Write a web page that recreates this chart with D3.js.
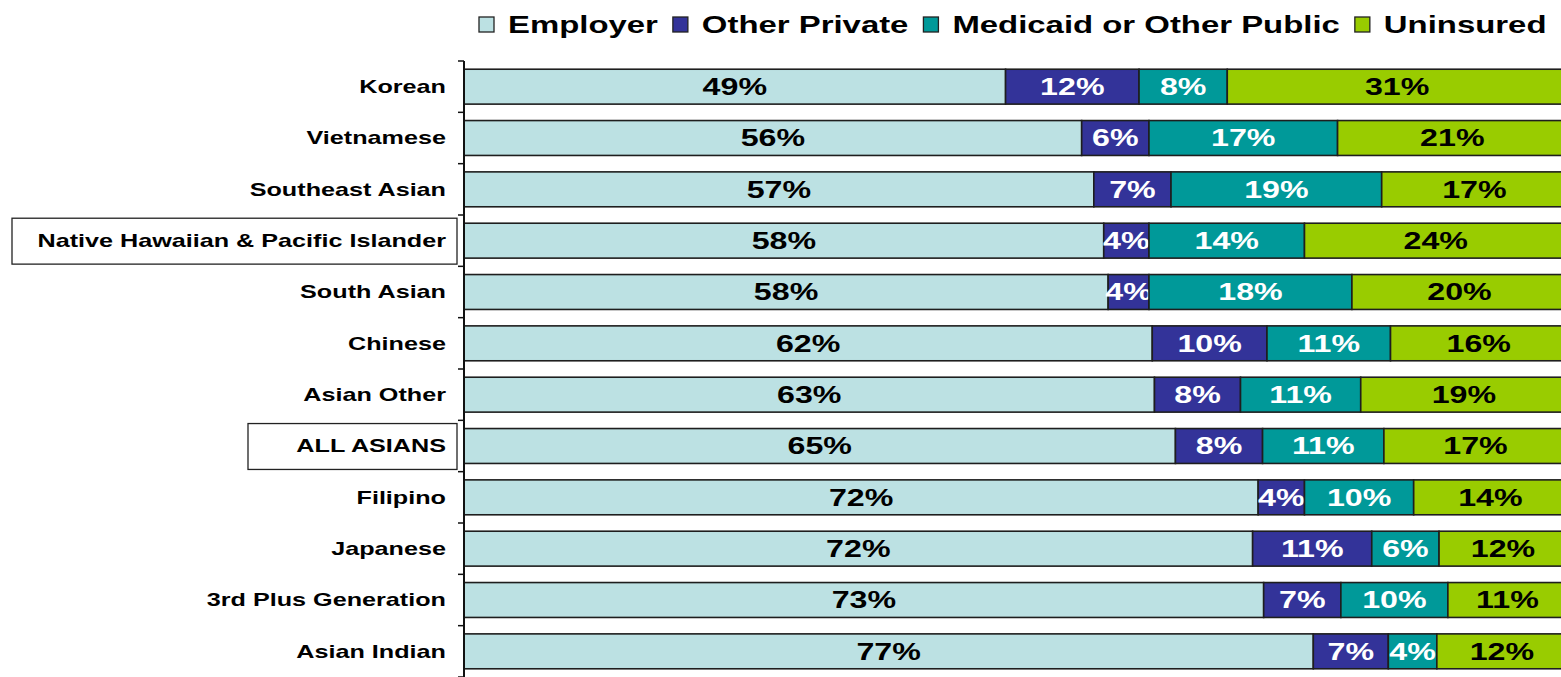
<!DOCTYPE html>
<html>
<head>
<meta charset="utf-8">
<script src="https://cdn.jsdelivr.net/npm/d3@7"></script>
<style>
  html, body { margin: 0; padding: 0; background: #fff; overflow: hidden; }
  svg { display: block; font-family: 'Liberation Sans', Arial, sans-serif; font-weight: bold; }
</style>
</head>
<body>
<svg id="chart"></svg>
<script>
// categories, top to bottom
const groups = [
  'Korean', 'Vietnamese', 'Southeast Asian', 'Native Hawaiian & Pacific Islander',
  'South Asian', 'Chinese', 'Asian Other', 'ALL ASIANS', 'Filipino', 'Japanese',
  '3rd Plus Generation', 'Asian Indian',
];
const coverageKeys = ['Employer', 'Other Private', 'Medicaid or Other Public', 'Uninsured'];

// shares (%) per coverage type, same order as groups
const employer = [49.1, 56.0, 57.1, 58.0, 58.4, 62.4, 62.6, 64.5, 72.0, 71.5, 72.5, 77.0];
const otherPrivate = [12.1, 6.1, 7.0, 4.1, 3.7, 10.4, 7.8, 7.9, 4.2, 10.8, 7.0, 6.8];
const medicaidPublic = [8.0, 17.1, 19.1, 14.1, 18.4, 11.2, 10.9, 11.0, 9.9, 6.1, 9.7, 4.4];
const uninsured = [30.8, 20.8, 16.8, 23.8, 19.5, 16.0, 18.7, 16.6, 13.9, 11.6, 10.8, 11.8];

// groups drawn with a frame around the label
const framedGroups = ['Native Hawaiian & Pacific Islander', 'ALL ASIANS'];

class CoverageBars {
  constructor(_config) {
    this.config = {
      parentElement: _config.parentElement,
      containerWidth: 1561,
      containerHeight: 677,
      margin: { top: 61, left: 464 },
      plotWidth: 1103,
      plotHeight: 616,
      textStretch: 1.4,
      colors: ['#bce1e3', '#333399', '#009999', '#99cc00'],
      labelColors: ['#000', '#fff', '#fff', '#000'],
      frameLeft: { 'Native Hawaiian & Pacific Islander': 12, 'ALL ASIANS': 248 },
    };
    this.initVis();
  }

  initVis() {
    const vis = this;
    const cfg = vis.config;

    vis.data = groups.map((g, i) => ({
      group: g,
      Employer: employer[i],
      'Other Private': otherPrivate[i],
      'Medicaid or Other Public': medicaidPublic[i],
      Uninsured: uninsured[i],
    }));

    vis.xScale = d3.scaleLinear().domain([0, 100]).range([0, cfg.plotWidth]);
    vis.yScale = d3.scaleBand().domain(groups).range([0, cfg.plotHeight]).paddingInner(0.32).paddingOuter(0.16);
    vis.colorScale = d3.scaleOrdinal().domain(coverageKeys).range(cfg.colors);
    vis.labelColor = d3.scaleOrdinal().domain(coverageKeys).range(cfg.labelColors);

    vis.svg = d3.select(cfg.parentElement)
      .attr('width', cfg.containerWidth)
      .attr('height', cfg.containerHeight);

    vis.chart = vis.svg.append('g')
      .attr('transform', `translate(${cfg.margin.left},${cfg.margin.top})`);

    vis.series = d3.stack().keys(coverageKeys)(vis.data);

    vis.renderVis();
    vis.renderAxis();
    vis.renderLegend();
  }

  renderVis() {
    const vis = this;
    const sx = vis.config.textStretch;

    const layers = vis.chart.selectAll('.layer')
      .data(vis.series)
      .join('g')
      .attr('class', 'layer');

    layers.selectAll('rect')
      .data((s) => s.map((d) => Object.assign(d, { key: s.key })))
      .join('rect')
      .attr('x', (d) => vis.xScale(d[0]))
      .attr('y', (d) => vis.yScale(d.data.group))
      .attr('width', (d) => vis.xScale(d[1]) - vis.xScale(d[0]))
      .attr('height', vis.yScale.bandwidth())
      .attr('fill', (d) => vis.colorScale(d.key))
      .attr('stroke', '#1e1e1e')
      .attr('stroke-width', 1.6);

    layers.selectAll('text')
      .data((s) => s)
      .join('text')
      .attr('transform', (d) => `translate(${vis.xScale((d[0] + d[1]) / 2)},${vis.yScale(d.data.group) + vis.yScale.bandwidth() / 2}) scale(${sx},1)`)
      .attr('text-anchor', 'middle')
      .attr('dy', '0.36em')
      .attr('font-size', 23)
      .attr('fill', (d) => vis.labelColor(d.key))
      .text((d) => `${Math.round(d[1] - d[0])}%`);
  }

  renderAxis() {
    const vis = this;
    const cfg = vis.config;
    const sx = cfg.textStretch;
    const step = vis.yScale.step();
    const offset = vis.yScale(groups[0]) - step * vis.yScale.paddingInner() / 2;

    const axisG = vis.chart.append('g').attr('class', 'y-axis');

    // band boundary ticks
    axisG.selectAll('.tick-line')
      .data(d3.range(groups.length + 1))
      .join('line')
      .attr('class', 'tick-line')
      .attr('x1', -6)
      .attr('x2', 0)
      .attr('y1', (i) => offset + i * step)
      .attr('y2', (i) => offset + i * step)
      .attr('stroke', '#111')
      .attr('stroke-width', 1.5);

    axisG.append('line')
      .attr('x1', 0).attr('x2', 0)
      .attr('y1', offset).attr('y2', cfg.plotHeight + 10)
      .attr('stroke', '#111')
      .attr('stroke-width', 2);

    // frames around highlighted labels
    axisG.selectAll('.frame')
      .data(framedGroups)
      .join('rect')
      .attr('class', 'frame')
      .attr('x', (g) => cfg.frameLeft[g] - cfg.margin.left)
      .attr('y', (g) => vis.yScale(g) - 5)
      .attr('width', (g) => cfg.margin.left - 7 - cfg.frameLeft[g])
      .attr('height', vis.yScale.bandwidth() + 11)
      .attr('fill', 'none')
      .attr('stroke', '#222')
      .attr('stroke-width', 1.3);

    axisG.selectAll('.group-label')
      .data(groups)
      .join('text')
      .attr('class', 'group-label')
      .attr('transform', (g) => `translate(-18,${vis.yScale(g) + vis.yScale.bandwidth() / 2}) scale(${sx},1)`)
      .attr('text-anchor', 'end')
      .attr('dy', '0.36em')
      .attr('font-size', 18)
      .attr('fill', '#000')
      .text((g) => g);
  }

  renderLegend() {
    const vis = this;
    const sx = vis.config.textStretch;
    const legend = vis.svg.append('g').attr('transform', 'translate(479,17)');

    let x = 0;
    coverageKeys.forEach((k) => {
      const item = legend.append('g').attr('transform', `translate(${x},0)`);
      item.append('rect')
        .attr('width', 15)
        .attr('height', 15)
        .attr('fill', vis.colorScale(k))
        .attr('stroke', '#222')
        .attr('stroke-width', 1.3);
      const t = item.append('text')
        .attr('transform', `translate(29,15.5) scale(${sx},1)`)
        .attr('font-size', 23.5)
        .attr('fill', '#000')
        .text(k);
      x += 29 + t.node().getComputedTextLength() * sx + 15;
    });
  }
}

const coverageBars = new CoverageBars({ parentElement: '#chart' });
</script>
</body>
</html>
